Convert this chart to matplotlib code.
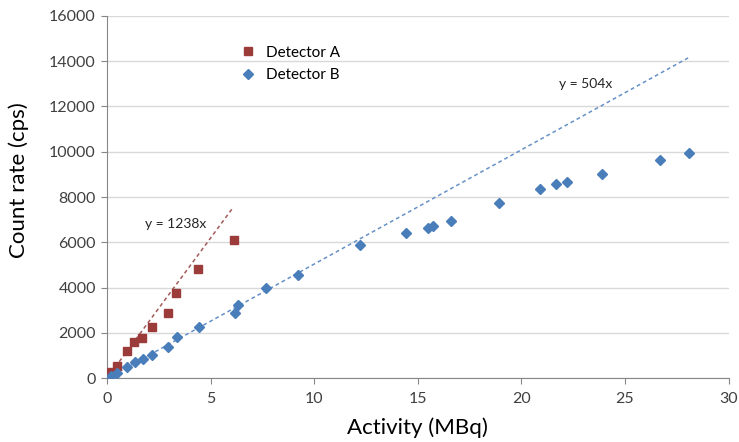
import matplotlib
matplotlib.use("Agg")
import matplotlib.pyplot as plt
import numpy as np

# %% Data
act_a = [0.18, 0.50, 0.95, 1.32, 1.70, 2.16, 2.93, 3.33, 4.39, 6.14]
rate_a = [280, 556, 1217, 1614, 1764, 2250, 2880, 3763, 4835, 6087]

act_b = [0.18, 0.50, 0.95, 1.35, 1.72, 2.16, 2.96, 3.36, 4.43, 6.16, 6.31, 7.68,
         9.23, 12.21, 14.42, 15.48, 15.73, 16.62, 18.91, 20.91, 21.68, 22.22,
         23.88, 26.70, 28.07]
rate_b = [110, 247, 512, 732, 838, 1041, 1381, 1822, 2263, 2894, 3233, 3996,
          4543, 5866, 6409, 6630, 6718, 6952, 7746, 8337, 8558, 8646,
          9011, 9616, 9938]

slope_a, fit_end_a = 1238, 6.1
slope_b, fit_end_b = 504, 28.05

red = "#9B3B3A"
blue = "#4A7EBB"
plt.rcParams["font.family"] = ["Lato", "DejaVu Sans"]

# %% Plot
fig = plt.figure(figsize=(7.39, 4.42), dpi=100)
ax = fig.add_axes([107 / 739, 1 - 378.3 / 442, (728.5 - 107) / 739, (378.3 - 15.7) / 442])

xa = np.array([0, fit_end_a])
xb = np.array([0, fit_end_b])
ax.plot(xa, slope_a * xa, ls=(0, (2.5, 2)), lw=1.1, color="#A45A59", zorder=2)
ax.plot(xb, slope_b * xb, ls=(0, (2.5, 2)), lw=1.1, color="#6591C8", zorder=2)

ax.plot(act_a, rate_a, ls="none", marker="s", ms=5.2, color=red, label="Detector A", zorder=3)
ax.plot(act_b, rate_b, ls="none", marker="D", ms=5.0, color=blue, label="Detector B", zorder=3)

ax.text(3.3, 6800, "y = 1238x", fontsize=10, ha="center", va="center", color="#262626")
ax.text(23.1, 13000, "y = 504x", fontsize=10, ha="center", va="center", color="#262626")

ax.set_xlim(0, 30)
ax.set_ylim(0, 16000)
ax.set_xticks(range(0, 31, 5))
ax.set_yticks(range(0, 16001, 2000))
ax.grid(axis="y", color="#D9D9D9", lw=1)
ax.set_axisbelow(True)
for side in ["top", "right"]:
    ax.spines[side].set_visible(False)
for side in ["left", "bottom"]:
    ax.spines[side].set_color("#868686")
ax.tick_params(colors="#868686", length=4, labelcolor="#404040", labelsize=11.5)
ax.tick_params(axis="x", pad=6)
ax.tick_params(axis="y", pad=4)

ax.set_xlabel("Activity (MBq)", fontsize=16)
ax.set_ylabel("Count rate (cps)", fontsize=16)
ax.xaxis.set_label_coords(0.4996, -0.108)
ax.yaxis.set_label_coords(-0.125, 0.547)

ax.legend(loc="upper left", bbox_to_anchor=(225 / 739, 1 - 32 / 442),
          bbox_transform=fig.transFigure, frameon=False, fontsize=11,
          handletextpad=0.6, labelspacing=0.55, handlelength=1.2)

fig.savefig("out.png", dpi=100)
